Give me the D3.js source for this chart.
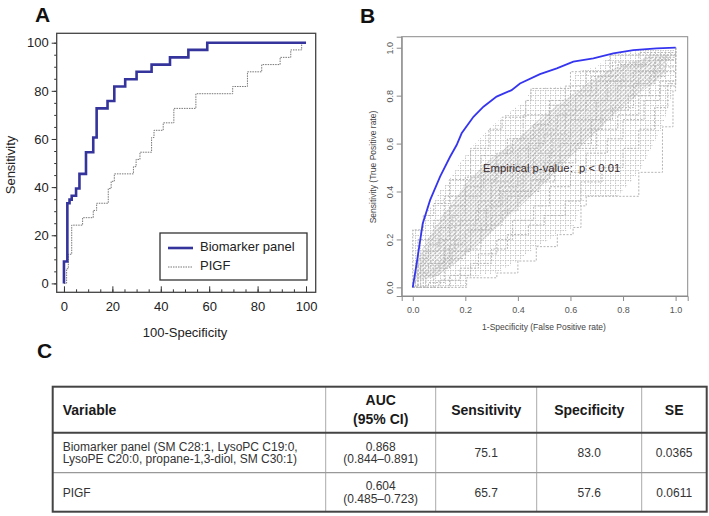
<!DOCTYPE html>
<html><head><meta charset="utf-8">
<script src="https://cdn.jsdelivr.net/npm/d3@7"></script>
<style>
body{margin:0;background:#fff;}
svg{display:block;font-family:"Liberation Sans",Arial,sans-serif;}
</style></head>
<body><svg id="c" width="709" height="516"></svg>
<script>
// ---------- Panel A data (x = 100-Specificity, y = Sensitivity), step points ----------
const biomarkerROC = [[0,0],[0,9.1],[1.4,33.3],[2.3,34.8],[3.2,36.4],[5,39.4],[6.4,45.5],[9.1,54.5],[12.1,60.6],[13.5,72.7],[18,75.8],[20.8,81.8],[25.3,84.8],[30,87.9],[36.2,90.9],[43.8,93.9],[51.4,97],[59.2,100],[100,100]];
const pigfROC = [[0,0],[1.1,6.1],[1.8,12.1],[3.2,24.2],[7.7,27.3],[12.1,30.3],[13.5,33.3],[18.3,39.4],[19.5,42.4],[20.8,45.5],[28.7,48.5],[29.8,51.5],[31.4,54.5],[36.2,60.6],[37.2,63.6],[41,66.7],[45.4,72.7],[54.5,78.8],[69.7,81.8],[75.8,87.9],[81.7,90.9],[89.3,93.9],[93.7,97],[98.2,100],[100,100]];
const aTicks = [0,20,40,60,80,100];
const aMinorTicks = [0,5,10,15,20,25,30,35,40,45,50,55,60,65,70,75,80,85,90,95,100];
const legendLabels = ["Biomarker panel","PIGF"];

// ---------- Panel B data (FPR, TPR) ----------
const observedROC = [[0,0],[0.015,0.1],[0.038,0.267],[0.066,0.364],[0.104,0.462],[0.142,0.545],[0.167,0.594],[0.186,0.643],[0.231,0.712],[0.269,0.754],[0.319,0.796],[0.376,0.823],[0.408,0.851],[0.484,0.89],[0.548,0.914],[0.611,0.942],[0.687,0.956],[0.763,0.976],[0.839,0.99],[0.928,0.997],[1,1]];
const permUpperEnv = [[0,0],[0,0.24],[0.04,0.24],[0.04,0.30],[0.08,0.35],[0.1,0.40],[0.14,0.45],[0.18,0.52],[0.22,0.58],[0.29,0.66],[0.34,0.71],[0.43,0.78],[0.45,0.83],[0.6,0.84],[0.62,0.9],[0.7,0.92],[0.75,0.97],[0.85,0.99],[1,0.99]];
const permLowerEnv = [[0,0],[0.205,0],[0.205,0.04],[0.32,0.06],[0.4,0.11],[0.47,0.17],[0.55,0.22],[0.61,0.25],[0.64,0.34],[0.66,0.38],[0.78,0.38],[0.86,0.48],[0.95,0.67],[0.99,0.82],[1,0.94],[1,0.99]];
const permCoreUpper = [[0.01,0.1],[0.05,0.19],[0.1,0.28],[0.2,0.43],[0.3,0.54],[0.4,0.62],[0.5,0.72],[0.6,0.8],[0.7,0.88],[0.8,0.93],[0.9,0.96],[0.98,0.97]];
const permCoreLower = [[0.01,0.03],[0.08,0.04],[0.15,0.09],[0.25,0.18],[0.35,0.28],[0.45,0.38],[0.55,0.49],[0.65,0.6],[0.75,0.7],[0.85,0.8],[0.95,0.88],[0.98,0.97]];
const permCurves = [
  [[0,0],[0,0.24],[0.04,0.3],[0.08,0.35],[0.14,0.45],[0.22,0.58],[0.29,0.66],[0.34,0.71],[0.43,0.78],[0.45,0.83],[0.6,0.9],[0.75,0.97],[1,1]],
  [[0,0],[0.205,0.04],[0.32,0.06],[0.4,0.11],[0.47,0.17],[0.55,0.22],[0.61,0.25],[0.64,0.34],[0.66,0.38],[0.78,0.38],[0.86,0.48],[0.95,0.67],[0.99,0.82],[1,0.94],[1,1]],
  [[0,0],[0.02,0.12],[0.06,0.18],[0.1,0.25],[0.15,0.3],[0.2,0.38],[0.26,0.45],[0.32,0.5],[0.4,0.58],[0.48,0.66],[0.55,0.72],[0.62,0.8],[0.7,0.86],[0.8,0.92],[0.88,0.96],[1,1]],
  [[0,0],[0.05,0.05],[0.1,0.1],[0.15,0.15],[0.22,0.24],[0.3,0.3],[0.36,0.38],[0.45,0.45],[0.52,0.55],[0.6,0.6],[0.68,0.7],[0.76,0.75],[0.84,0.85],[0.92,0.9],[1,1]],
  [[0,0],[0.01,0.06],[0.06,0.1],[0.12,0.2],[0.18,0.28],[0.25,0.36],[0.33,0.42],[0.4,0.5],[0.46,0.56],[0.53,0.62],[0.6,0.7],[0.7,0.78],[0.78,0.84],[0.86,0.9],[0.94,0.95],[1,1]],
  [[0,0],[0.04,0.15],[0.1,0.2],[0.14,0.34],[0.2,0.42],[0.27,0.48],[0.32,0.56],[0.38,0.62],[0.46,0.68],[0.52,0.76],[0.6,0.82],[0.68,0.88],[0.78,0.93],[0.9,0.97],[1,1]],
  [[0,0],[0.1,0.03],[0.18,0.08],[0.25,0.14],[0.32,0.2],[0.38,0.28],[0.46,0.34],[0.52,0.42],[0.6,0.48],[0.66,0.56],[0.74,0.62],[0.8,0.7],[0.88,0.78],[0.94,0.86],[1,0.95],[1,1]],
  [[0,0],[0.14,0.05],[0.22,0.1],[0.3,0.16],[0.36,0.22],[0.44,0.26],[0.5,0.3],[0.58,0.36],[0.64,0.44],[0.72,0.5],[0.8,0.58],[0.86,0.66],[0.92,0.75],[0.97,0.85],[1,1]],
  [[0,0],[0.02,0.2],[0.08,0.28],[0.12,0.38],[0.2,0.46],[0.26,0.55],[0.36,0.62],[0.42,0.72],[0.52,0.78],[0.58,0.84],[0.66,0.9],[0.76,0.94],[0.86,0.98],[1,1]],
  [[0,0],[0.08,0.08],[0.14,0.18],[0.2,0.24],[0.28,0.34],[0.34,0.4],[0.42,0.48],[0.5,0.52],[0.56,0.6],[0.64,0.66],[0.72,0.74],[0.82,0.8],[0.9,0.88],[0.96,0.92],[1,1]],
  [[0,0],[0.03,0.1],[0.12,0.16],[0.16,0.26],[0.24,0.32],[0.3,0.44],[0.38,0.5],[0.44,0.6],[0.5,0.64],[0.58,0.74],[0.66,0.78],[0.74,0.86],[0.84,0.9],[0.92,0.95],[1,1]],
  [[0,0],[0.06,0.02],[0.12,0.12],[0.2,0.16],[0.26,0.26],[0.34,0.32],[0.4,0.4],[0.48,0.44],[0.54,0.52],[0.62,0.58],[0.7,0.66],[0.78,0.72],[0.86,0.8],[0.94,0.84],[1,0.92],[1,1]]
];
const bTicks = [0,0.2,0.4,0.6,0.8,1.0];

// ---------- Panel C table ----------
const tableHeaders = [["Variable"],["AUC","(95% CI)"],["Sensitivity"],["Specificity"],["SE"]];
const tableVariables = [["Biomarker panel (SM C28:1, LysoPC C19:0,","LysoPE C20:0, propane-1,3-diol, SM C30:1)"],["PIGF"]];
const tableAUC = [["0.868","(0.844\u20130.891)"],["0.604","(0.485\u20130.723)"]];
const tableSensitivity = ["75.1","65.7"];
const tableSpecificity = ["83.0","57.6"];
const tableSE = ["0.0365","0.0611"];

const svg = d3.select("#c");
svg.append("rect").attr("width",709).attr("height",516).attr("fill","#fff");

const defs = svg.append("defs");
const ph = defs.append("pattern").attr("id","hatch").attr("width",3).attr("height",3)
  .attr("patternUnits","userSpaceOnUse").attr("patternTransform","rotate(45)");
ph.append("line").attr("x1",0.8).attr("y1",0).attr("x2",0.8).attr("y2",3)
  .attr("stroke","#a9a9a9").attr("stroke-width",1.2).attr("stroke-dasharray","1.6,0.8");
const pg = defs.append("pattern").attr("id","grid").attr("width",5).attr("height",5).attr("patternUnits","userSpaceOnUse");
pg.append("path").attr("d","M0,0.5H5M0.5,0V5").attr("stroke","#c6c6c6").attr("stroke-width",1).attr("stroke-dasharray","1.5,1").attr("fill","none");

// ================= Panel A =================
const xA = d3.scaleLinear().domain([-3,104]).range([56.7,315.7]);
const yA = d3.scaleLinear().domain([-3.7,103.9]).range([292.3,33.3]);
const gA = svg.append("g");
gA.append("text").attr("x",35).attr("y",22).attr("font-size",21).attr("font-weight","bold").attr("fill","#111").text("A");

gA.append("g").attr("transform",`translate(56.7,0)`)
  .call(d3.axisLeft(yA).tickValues(aMinorTicks).tickSize(2.5).tickFormat(""))
  .call(g=>{g.select(".domain").remove();g.selectAll("line").attr("stroke","#333");});
gA.append("g").attr("transform",`translate(56.7,0)`)
  .call(d3.axisLeft(yA).tickValues(aTicks).tickSize(5).tickPadding(3))
  .call(g=>{g.select(".domain").remove();g.selectAll("line").attr("stroke","#333");
    g.selectAll("text").attr("font-size",13).attr("fill","#222").attr("font-family","Liberation Sans, Arial, sans-serif");});
gA.append("g").attr("transform",`translate(0,292.3)`)
  .call(d3.axisBottom(xA).tickValues(aMinorTicks).tickSize(-3).tickFormat(""))
  .call(g=>{g.select(".domain").remove();g.selectAll("line").attr("stroke","#333");});
gA.append("g").attr("transform",`translate(0,292.3)`)
  .call(d3.axisBottom(xA).tickValues(aTicks).tickSize(-6).tickPadding(9))
  .call(g=>{g.select(".domain").remove();g.selectAll("line").attr("stroke","#333");
    g.selectAll("text").attr("font-size",13).attr("fill","#222").attr("font-family","Liberation Sans, Arial, sans-serif");});
gA.append("rect").attr("x",56.7).attr("y",33.3).attr("width",259).attr("height",259)
  .attr("fill","none").attr("stroke","#444").attr("stroke-width",1.3);

const lineA = d3.line().x(d=>xA(d[0])).y(d=>yA(d[1])).curve(d3.curveStepAfter);
gA.append("path").attr("d",lineA(pigfROC)).attr("fill","none").attr("stroke","#777")
  .attr("stroke-width",1).attr("stroke-dasharray","1.5,1");
gA.append("path").attr("d",lineA(biomarkerROC)).attr("fill","none").attr("stroke","#34349c")
  .attr("stroke-width",2.6);

gA.append("text").attr("x",12).attr("y",165).attr("transform","rotate(-90,12,165)")
  .attr("text-anchor","middle").attr("dominant-baseline","middle").attr("font-size",13).attr("fill","#222").text("Sensitivity");
gA.append("text").attr("x",185).attr("y",337).attr("text-anchor","middle").attr("font-size",13).attr("fill","#222").text("100-Specificity");

// legend
gA.append("rect").attr("x",160).attr("y",233).attr("width",147).attr("height",47)
  .attr("fill","#fff").attr("stroke","#333").attr("stroke-width",1.3);
const legYs = [248,267];
gA.append("line").attr("x1",168).attr("x2",193).attr("y1",legYs[0]).attr("y2",legYs[0]).attr("stroke","#34349c").attr("stroke-width",2.6);
gA.append("line").attr("x1",168).attr("x2",193).attr("y1",legYs[1]).attr("y2",legYs[1]).attr("stroke","#777").attr("stroke-width",1).attr("stroke-dasharray","1.5,1");
legendLabels.forEach((t,i)=>{
  gA.append("text").attr("x",200).attr("y",legYs[i]).attr("dominant-baseline","middle").attr("font-size",13).attr("fill","#222").text(t);
});

// ================= Panel B =================
const xB = d3.scaleLinear().domain([-0.042,1.046]).range([401.7,687.7]);
const yB = d3.scaleLinear().domain([-0.036,1.046]).range([296,36.7]);
const gB = svg.append("g");
gB.append("text").attr("x",360).attr("y",23).attr("font-size",21).attr("font-weight","bold").attr("fill","#111").text("B");

const areaB = (upper, lower) => {
  const pts = upper.map(d=>[xB(d[0]),yB(d[1])]).concat(lower.slice().reverse().map(d=>[xB(d[0]),yB(d[1])]));
  return "M" + pts.map(p=>p.join(",")).join("L") + "Z";
};
gB.append("path").attr("d",areaB(permUpperEnv,permLowerEnv)).attr("fill","url(#grid)");
gB.append("path").attr("d",areaB(permCoreUpper,permCoreLower)).attr("fill","url(#hatch)");
const lineB = d3.line().x(d=>xB(d[0])).y(d=>yB(d[1]));
const stepB = d3.line().x(d=>xB(d[0])).y(d=>yB(d[1])).curve(d3.curveStepAfter);
permCurves.forEach(c=>{
  gB.append("path").attr("d",stepB(c)).attr("fill","none").attr("stroke","#b5b5b5")
    .attr("stroke-width",1).attr("stroke-dasharray","2,1.5");
});
gB.append("path").attr("d",lineB(observedROC)).attr("fill","none").attr("stroke","#3535f0").attr("stroke-width",1.8);

gB.append("rect").attr("x",401.7).attr("y",36.7).attr("width",286).attr("height",259.3)
  .attr("fill","none").attr("stroke","#8a8a8a").attr("stroke-width",1);
gB.append("g").attr("transform","translate(0,296)")
  .call(d3.axisBottom(xB).tickValues(bTicks).tickSize(5).tickPadding(6).tickFormat(d3.format(".1f")))
  .call(g=>{g.select(".domain").attr("stroke","#8a8a8a");g.selectAll("line").attr("stroke","#8a8a8a");
    g.selectAll("text").attr("font-size",9).attr("fill","#555").attr("font-family","Liberation Sans, Arial, sans-serif");});
gB.append("g").attr("transform","translate(401.7,0)")
  .call(d3.axisLeft(yB).tickValues(bTicks).tickSize(5).tickFormat(d3.format(".1f")))
  .call(g=>{g.select(".domain").attr("stroke","#8a8a8a");g.selectAll("line").attr("stroke","#8a8a8a");
    g.selectAll("text").attr("font-size",9).attr("fill","#555").attr("font-family","Liberation Sans, Arial, sans-serif")
      .attr("text-anchor","middle").attr("x",0).attr("dy",0)
      .attr("transform","translate(-9,0) rotate(-90)");});
gB.append("text").attr("x",544).attr("y",330).attr("text-anchor","middle").attr("font-size",8.5).attr("fill","#444").text("1-Specificity (False Positive rate)");
gB.append("text").attr("x",376).attr("y",167).attr("transform","rotate(-90,376,167)").attr("text-anchor","middle")
  .attr("font-size",8.5).attr("fill","#444").text("Sensitivity (True Positive rate)");
gB.append("text").attr("x",483).attr("y",172).attr("font-size",11.3).attr("fill","#3a2c2c").style("white-space","pre").text("Empirical p-value:  p < 0.01");

// ================= Panel C =================
const gC = svg.append("g");
gC.append("text").attr("x",37).attr("y",358).attr("font-size",21).attr("font-weight","bold").attr("fill","#111").text("C");
const colEdges = [52.7,325.7,435.7,536.7,641.7,706.7];
const rowEdges = [386.7,432.7,472.7,511.7];
const colX = d3.scaleOrdinal().domain(d3.range(5)).range(d3.range(5).map(i=>(colEdges[i]+colEdges[i+1])/2));
colEdges.slice(1,-1).forEach(x=>{
  gC.append("line").attr("x1",x).attr("x2",x).attr("y1",rowEdges[0]).attr("y2",rowEdges[3]).attr("stroke","#aaa").attr("stroke-width",1);
});
gC.append("line").attr("x1",colEdges[0]).attr("x2",colEdges[5]).attr("y1",rowEdges[2]).attr("y2",rowEdges[2]).attr("stroke","#999").attr("stroke-width",1.2);
gC.append("line").attr("x1",colEdges[0]).attr("x2",colEdges[5]).attr("y1",rowEdges[1]).attr("y2",rowEdges[1]).attr("stroke","#444").attr("stroke-width",2);
gC.append("rect").attr("x",colEdges[0]).attr("y",rowEdges[0]).attr("width",colEdges[5]-colEdges[0]).attr("height",rowEdges[3]-rowEdges[0])
  .attr("fill","none").attr("stroke","#444").attr("stroke-width",2);

const hdrMid = (rowEdges[0]+rowEdges[1])/2;
tableHeaders.forEach((lines,i)=>{
  const t = gC.append("text").attr("font-size",14).attr("font-weight","bold").attr("fill","#1a1a1a")
    .attr("text-anchor", i===0?"start":"middle");
  const x = i===0 ? 62.7 : colX(i);
  lines.forEach((s,j)=>{
    t.append("tspan").attr("x",x).attr("y",hdrMid + 5 + (j-(lines.length-1)/2)*18.5).text(s);
  });
});
const bodyFont = 12, bodyColor = "#333";
function cell(col, mid, lines, anchor){
  const t = gC.append("text").attr("font-size",bodyFont).attr("fill",bodyColor).attr("text-anchor",anchor);
  const x = anchor==="start" ? 62.7 : colX(col);
  lines.forEach((s,j)=>{
    t.append("tspan").attr("x",x).attr("y",mid + 4.3 + (j-(lines.length-1)/2)*12.5).text(s);
  });
}
tableVariables.forEach((v,r)=>{
  const mid = (rowEdges[r+1]+rowEdges[r+2])/2;
  cell(0, mid, v, "start");
  cell(1, mid, tableAUC[r], "middle");
  cell(2, mid, [tableSensitivity[r]], "middle");
  cell(3, mid, [tableSpecificity[r]], "middle");
  cell(4, mid, [tableSE[r]], "middle");
});
</script></body></html>
